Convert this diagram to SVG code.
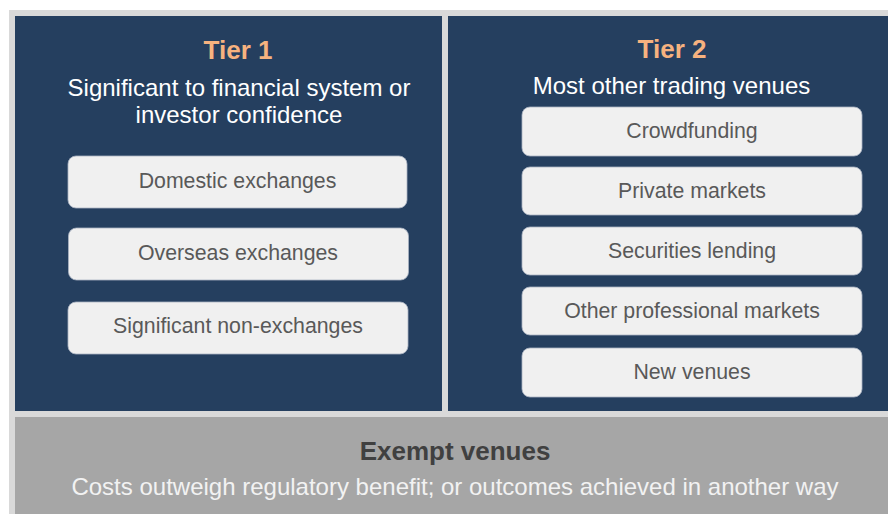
<svg xmlns="http://www.w3.org/2000/svg" width="888" height="514" viewBox="0 0 888 514">
  <style>
    .panel { fill: #253f5f; }
    .item rect { fill: #f0f0f0; stroke: #a9b3c1; stroke-width: 0.8; }
    .item text { font-family: "Liberation Sans", Arial, sans-serif; font-size: 21.3px; fill: #595959; text-anchor: middle; }
    .title { font-family: "Liberation Sans", Arial, sans-serif; font-size: 26px; font-weight: bold; fill: #f6b27f; text-anchor: middle; }
    .sub { font-family: "Liberation Sans", Arial, sans-serif; font-size: 24px; fill: #ffffff; text-anchor: middle; }
  </style>

  <!-- outer frame -->
  <rect x="0" y="0" width="888" height="514" fill="#ffffff"/>
  <rect x="9" y="10" width="879" height="504" fill="#d9d9d9"/>

  <!-- Tier 1 panel -->
  <g id="tier1">
    <rect class="panel" x="15" y="16" width="427" height="395"/>
    <text class="title" x="238" y="59">Tier 1</text>
    <text class="sub" x="239" y="96">Significant to financial system or</text>
    <text class="sub" x="239" y="123">investor confidence</text>
  </g>

  <g id="domestic" class="item">
    <rect x="68" y="156" width="339" height="52" rx="8"/>
    <text x="237.5" y="188">Domestic exchanges</text>
  </g>
  <g id="overseas" class="item">
    <rect x="68.5" y="228" width="340" height="52" rx="8"/>
    <text x="238" y="260">Overseas exchanges</text>
  </g>
  <g id="non-exchanges" class="item">
    <rect x="68" y="302" width="340" height="52" rx="8"/>
    <text x="238" y="333">Significant non-exchanges</text>
  </g>

  <!-- Tier 2 panel -->
  <g id="tier2">
    <rect class="panel" x="448" y="16" width="440" height="395"/>
    <text class="title" x="672" y="58">Tier 2</text>
    <text class="sub" x="671.5" y="94">Most other trading venues</text>
  </g>

  <g id="crowdfunding" class="item">
    <rect x="522" y="107" width="340" height="49" rx="8"/>
    <text x="692" y="138">Crowdfunding</text>
  </g>
  <g id="private" class="item">
    <rect x="522" y="167" width="340" height="48" rx="8"/>
    <text x="692" y="198">Private markets</text>
  </g>
  <g id="securities" class="item">
    <rect x="522" y="227" width="340" height="48" rx="8"/>
    <text x="692" y="258">Securities lending</text>
  </g>
  <g id="professional" class="item">
    <rect x="522" y="287" width="340" height="48" rx="8"/>
    <text x="692" y="318">Other professional markets</text>
  </g>
  <g id="new-venues" class="item">
    <rect x="522" y="348" width="340" height="49" rx="8"/>
    <text x="692" y="379">New venues</text>
  </g>

  <!-- Exempt band -->
  <g id="exempt">
    <rect x="15" y="417" width="873" height="97" fill="#a6a6a6"/>
    <text x="455" y="460" font-family="'Liberation Sans', Arial, sans-serif" font-size="26" font-weight="bold" fill="#404040" text-anchor="middle">Exempt venues</text>
    <text x="455" y="495" font-family="'Liberation Sans', Arial, sans-serif" font-size="24" fill="#f2f2f2" text-anchor="middle">Costs outweigh regulatory benefit; or outcomes achieved in another way</text>
  </g>

  <g id="connectors"/>
</svg>
